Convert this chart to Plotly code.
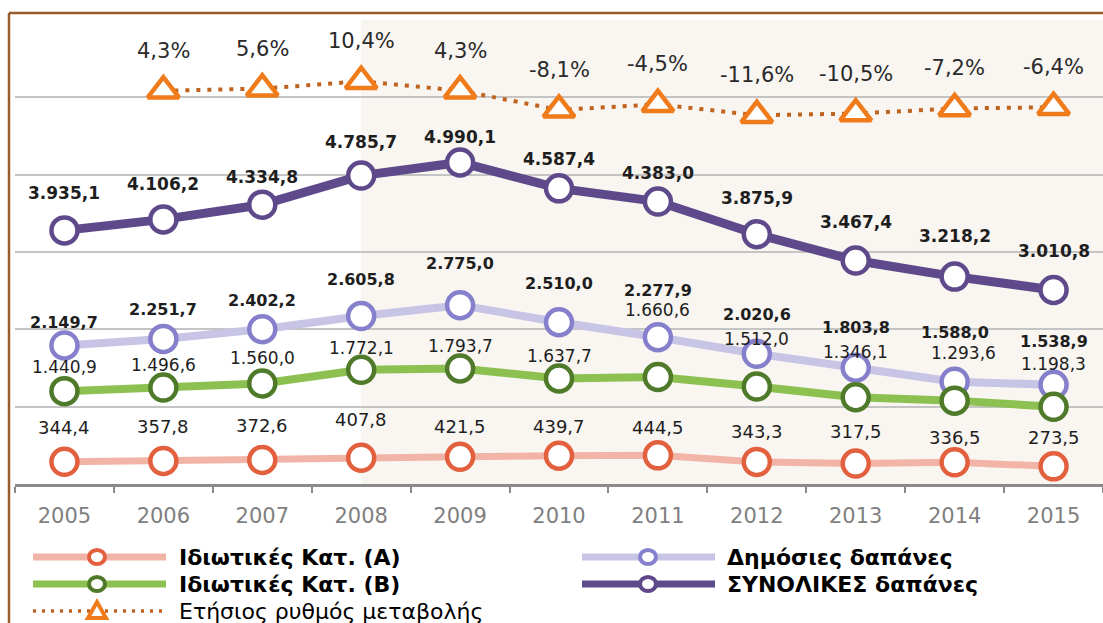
import plotly.graph_objects as go

# ---------------- data ----------------
years = ["2005", "2006", "2007", "2008", "2009", "2010", "2011", "2012", "2013", "2014", "2015"]
private_a = [344.4, 357.8, 372.6, 407.8, 421.5, 439.7, 444.5, 343.3, 317.5, 336.5, 273.5]
private_b = [1440.9, 1496.6, 1560.0, 1772.1, 1793.7, 1637.7, 1660.6, 1512.0, 1346.1, 1293.6, 1198.3]
public = [2149.7, 2251.7, 2402.2, 2605.8, 2775.0, 2510.0, 2277.9, 2020.6, 1803.8, 1588.0, 1538.9]
total = [3935.1, 4106.2, 4334.8, 4785.7, 4990.1, 4587.4, 4383.0, 3875.9, 3467.4, 3218.2, 3010.8]
rate_years = ["2006", "2007", "2008", "2009", "2010", "2011", "2012", "2013", "2014", "2015"]
rate = [4.3, 5.6, 10.4, 4.3, -8.1, -4.5, -11.6, -10.5, -7.2, -6.4]

names = {
    "a": "Ιδιωτικές Κατ. (Α)",
    "b": "Ιδιωτικές Κατ. (Β)",
    "pub": "Δημόσιες δαπάνες",
    "tot": "ΣΥΝΟΛΙΚΕΣ δαπάνες",
    "rate": "Ετήσιος ρυθμός μεταβολής",
}

# ---------------- styles ----------------
W, H = 1103, 623
L, R, T, B = 15, 0, 20, 139
PW, PH = W - L - R, H - T - B

C = {
    "a_line": "#f2b4a7", "a_mk": "#e3603f",
    "b_line": "#8cc152", "b_mk": "#4f7a29",
    "pub_line": "#c7c4e5", "pub_mk": "#8680cc",
    "tot_line": "#5e4a8b", "tot_mk": "#5e4a8b",
    "rate_line": "#c0631f", "rate_mk": "#f07b1b",
}
LABEL_FONT = "DejaVu Sans"
LEG_FONT = "DejaVu Sans"

# label vertical offsets (px) above each point
dy_tot = [37, 35, 28, 34, 25, 29, 29, 36, 39, 41, 39]
dy_pub = [23, 29, 29, 37, 42, 39, 47, 39, 40, 49, 43]
dy_b = [24, 23, 25, 22, 22, 22, 67, 48, 45, 48, 43]
dy_a = [34, 34, 34, 38, 30, 29, 28, 30, 32, 25, 29]
dx_b = [0, 0, 0, 0, 0, 0, 0, 0, 0, 9, 0]
dy_rate = 40


def fmt(v):
    s = f"{v:,.1f}"
    return s.replace(",", "X").replace(".", ",").replace("X", ".")


def fmt_pct(v):
    return f"{v:.1f}%".replace(".", ",")


def px_x(p):
    return (p - L) / PW


def px_y(p):
    return (H - B - p) / PH


fig = go.Figure()


def add_series(y, line_c, mk_c, lw, name):
    fig.add_trace(go.Scatter(
        x=years, y=y, mode="lines+markers", name=name, showlegend=False,
        line=dict(color=line_c, width=lw),
        marker=dict(size=26, color="white", line=dict(color=mk_c, width=4.5)),
        hoverinfo="skip",
    ))


add_series(private_a, C["a_line"], C["a_mk"], 7, names["a"])
add_series(public, C["pub_line"], C["pub_mk"], 8, names["pub"])
add_series(private_b, C["b_line"], C["b_mk"], 8, names["b"])
add_series(total, C["tot_line"], C["tot_mk"], 9, names["tot"])

fig.add_trace(go.Scatter(
    x=rate_years, y=rate, mode="lines+markers", name=names["rate"], showlegend=False,
    yaxis="y2",
    line=dict(color=C["rate_line"], width=4, dash="4px,7px"),
    marker=dict(symbol="triangle-up", size=27, color="white",
                line=dict(color=C["rate_mk"], width=4.5)),
    hoverinfo="skip",
))

annotations = []


def add_labels(vals, dys, bold, size, yref="y", xs=None, dxs=None, color="#1e1e1e", pct=False):
    xs = xs or years
    for i, (x, v) in enumerate(zip(xs, vals)):
        dy = dys[i] if isinstance(dys, list) else dys
        dx = dxs[i] if dxs else 0
        annotations.append(dict(
            x=years.index(x), y=v, xref="x", yref=yref, yshift=dy, xshift=dx,
            text=fmt_pct(v) if pct else fmt(v), showarrow=False,
            font=dict(family=LABEL_FONT, size=size, color=color,
                      weight="bold" if bold else "normal"),
            xanchor="center", yanchor="middle",
        ))


add_labels(total, dy_tot, True, 17)
add_labels(public, dy_pub, True, 16)
add_labels(private_b, dy_b, False, 17, dxs=dx_b)
add_labels(private_a, dy_a, False, 18)
add_labels(rate, dy_rate, False, 21, yref="y2", xs=rate_years, color="#2a2a2a", pct=True)

shapes = []
# shaded region from 2008 onward
shapes.append(dict(type="rect", xref="x", yref="paper",
                   x0=years.index("2008"), x1=len(years) - 0.5, y0=0, y1=1,
                   fillcolor="#f9f5f1", line=dict(width=0), layer="below"))
# outer brown frame (left & top)
shapes.append(dict(type="line", xref="paper", yref="paper",
                   x0=px_x(9), x1=px_x(9), y0=px_y(13), y1=px_y(640),
                   line=dict(color="#9b5b2a", width=2.5), layer="above"))
shapes.append(dict(type="line", xref="paper", yref="paper",
                   x0=px_x(9), x1=px_x(1110), y0=px_y(13), y1=px_y(13),
                   line=dict(color="#9b5b2a", width=2.5), layer="above"))

# ---------------- custom legend ----------------
legend_items = [
    (33, 166, 97, 557, 177, names["a"], C["a_line"], C["a_mk"], "circle", True),
    (33, 166, 97, 584, 177, names["b"], C["b_line"], C["b_mk"], "circle", True),
    (33, 166, 97, 611, 177, names["rate"], C["rate_line"], C["rate_mk"], "tri", False),
    (582, 715, 648, 557, 725, names["pub"], C["pub_line"], C["pub_mk"], "circle", True),
    (582, 715, 648, 584, 725, names["tot"], C["tot_line"], C["tot_mk"], "circle", True),
]
for x0, x1, xm, yy, xt, label, lc, mc, kind, bold in legend_items:
    if kind == "circle":
        shapes.append(dict(type="line", xref="paper", yref="paper",
                           x0=px_x(x0), x1=px_x(x1), y0=px_y(yy), y1=px_y(yy),
                           line=dict(color=lc, width=7), layer="above"))
        shapes.append(dict(type="circle", xref="paper", yref="paper",
                           xsizemode="pixel", ysizemode="pixel",
                           xanchor=px_x(xm), yanchor=px_y(yy),
                           x0=-8, x1=8, y0=-7, y1=7,
                           fillcolor="white", line=dict(color=mc, width=4), layer="above"))
    else:
        shapes.append(dict(type="line", xref="paper", yref="paper",
                           x0=px_x(x0), x1=px_x(x1), y0=px_y(yy), y1=px_y(yy),
                           line=dict(color=lc, width=3.5, dash="3px,6px"), layer="above"))
        shapes.append(dict(type="path", xref="paper", yref="paper",
                           xsizemode="pixel", ysizemode="pixel",
                           xanchor=px_x(xm), yanchor=px_y(yy),
                           path="M-9,-7 L9,-7 L0,9 Z",
                           fillcolor="white", line=dict(color=mc, width=4), layer="above"))
    annotations.append(dict(
        x=px_x(xt), y=px_y(yy), xref="paper", yref="paper", text=label,
        showarrow=False, xanchor="left", yanchor="middle",
        font=dict(family=LEG_FONT, size=22, color="#000000",
                  weight="bold" if bold else "normal"),
    ))

fig.update_layout(
    width=W, height=H,
    margin=dict(l=L, r=R, t=T, b=B, pad=0),
    paper_bgcolor="white", plot_bgcolor="white",
    showlegend=False,
    xaxis=dict(type="category", categoryorder="array", categoryarray=years,
               range=[-0.5, len(years) - 0.5],
               tickson="boundaries", ticks="outside", ticklen=6, tickwidth=2,
               tickcolor="#8a8a8a", showline=True, linecolor="#8a8a8a", linewidth=2.5,
               showgrid=False, zeroline=False, ticklabelstandoff=11,
               tickfont=dict(family=LABEL_FONT, size=21, color="#7f7f7f")),
    yaxis=dict(range=[0, 7200], dtick=1200, showgrid=True, gridcolor="#c4c4c4",
               gridwidth=2, showticklabels=False, zeroline=False, showline=False),
    yaxis2=dict(range=[-250, 50], overlaying="y", side="right", showgrid=False,
                showticklabels=False, zeroline=False, showline=False),
    shapes=shapes,
    annotations=annotations,
)

fig.write_html("out.html", config={"displayModeBar": False},
               post_script="document.body.style.margin='0';")
